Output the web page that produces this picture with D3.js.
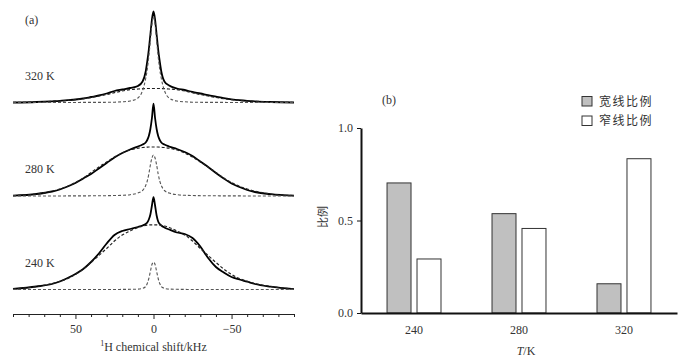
<!DOCTYPE html>
<html>
<head>
<meta charset="utf-8">
<script src="https://cdn.jsdelivr.net/npm/d3@7"></script>
<style>
  body { margin: 0; background: #fff; }
  svg { display: block; }
  text { font-family: "Liberation Serif", "DejaVu Serif", serif; fill: #333; }
  .cjk { font-family: "Noto Sans CJK SC", sans-serif; }
</style>
</head>
<body>
<script>
// ---------- data: (a) 1H NMR spectra ----------
const shiftKHz = [90, 75, 65, 60, 55, 50, 45, 40, 35, 30, 25, 20, 15, 10, 7, 5, 4, 3, 2, 1,
  0, -1, -2, -3, -4, -5, -7, -10, -15, -20, -25, -30, -35, -40, -45, -50, -55, -60, -65, -75, -90];

const spectrumLabels = ["320 K", "280 K", "240 K"];

// intensities (a.u.), one value per shiftKHz entry
const solid320 = [0, 0.5, 1.2, 1.6, 2.3, 3, 4, 5.5, 7, 9, 11.5, 13, 14.5, 16.5, 21, 31, 41, 53, 68, 83,
  91, 83, 68, 53, 41, 31, 21, 17, 14, 12.5, 10.5, 9, 7.3, 5.8, 4.3, 3.2, 2.3, 1.6, 1.1, 0.5, 0];
const broad320 = [0, 0.5, 1.2, 1.5, 2.1, 2.8, 3.8, 5, 6.5, 8, 9.8, 11.5, 12.8, 13.5, 13.8, 13.9, 14, 14, 14, 14,
  14, 14, 14, 14, 14, 13.9, 13.8, 13.5, 12.8, 11.5, 9.8, 8, 6.5, 5, 3.8, 2.8, 2.1, 1.5, 1.2, 0.5, 0];
const narrow320 = [0, 0, 0, 0, 0, 0, 0.1, 0.1, 0.1, 0.2, 0.3, 0.7, 1.5, 4.5, 12, 24, 33, 46, 62, 78,
  86, 78, 62, 46, 33, 24, 12, 4.5, 1.5, 0.7, 0.3, 0.2, 0.1, 0.1, 0.1, 0, 0, 0, 0, 0, 0];

const solid280 = [0.3, 2, 4.5, 6.5, 9.5, 13, 17.5, 22, 27.5, 33, 38.5, 43, 46.5, 49.5, 51.5, 53.5, 56, 60, 67, 78,
  92.4, 78, 67, 60, 56, 53.5, 51.5, 49.5, 47, 44, 40, 34.5, 29, 23, 17.5, 12.5, 9, 6, 4, 1.8, 0.3];
const broad280 = [0.4, 2, 4.8, 7, 9.8, 13.5, 18, 23.5, 29, 34, 39, 43, 46, 47.8, 48.5, 48.8, 48.9, 49, 49, 49,
  49, 49, 49, 49, 48.9, 48.8, 48.5, 47.8, 46, 43, 39, 34, 29, 23.5, 18, 13.5, 9.8, 7, 4.8, 2, 0.4];
const narrow280 = [0, 0, 0, 0, 0.1, 0.1, 0.1, 0.2, 0.2, 0.3, 0.5, 0.7, 1.3, 3, 5.5, 10.5, 15, 22, 31, 38,
  41, 38, 31, 22, 15, 10.5, 5.5, 3, 1.3, 0.7, 0.5, 0.3, 0.2, 0.2, 0.1, 0.1, 0.1, 0, 0, 0, 0];

const solid240 = [0.5, 3, 5.5, 8, 11.5, 15.5, 20.5, 27.5, 36, 46, 54.5, 58.5, 60.5, 62.5, 64, 65.5, 67, 70, 75, 84,
  92.3, 84, 74, 68, 65.5, 64, 62, 60, 57, 55.5, 51.5, 43, 31.5, 22.5, 17, 12.5, 10, 7.8, 5.5, 2.8, 0.3];
const broad240 = [0.5, 3, 6, 8.2, 11, 15, 20.5, 27, 34, 41, 48.5, 54.5, 58.5, 62, 63.5, 64.2, 64.4, 64.5, 64.6, 64.7,
  64.7, 64.7, 64.6, 64.5, 64.4, 64.2, 63.5, 62, 58.5, 54.5, 48.5, 41, 34, 27, 20.5, 15, 11, 8.2, 6, 3, 0.5];
const narrow240 = [0, 0, 0, 0, 0, 0, 0, 0, 0, 0, 0, 0.1, 0.2, 0.4, 1.2, 3, 6, 11, 18, 25,
  27.3, 25, 18, 11, 6, 3, 1.2, 0.4, 0.2, 0.1, 0, 0, 0, 0, 0, 0, 0, 0, 0, 0, 0];

// ---------- data: (b) line fractions ----------
const temperatures = ["240", "280", "320"];
const seriesKeys = ["broad", "narrow"];
const seriesNames = ["宽线比例", "窄线比例"];
const broadFraction = [0.703, 0.537, 0.158];
const narrowFraction = [0.292, 0.457, 0.834];
const yTicksB = [0, 0.5, 1.0];

// ---------- svg ----------
const width = 691, height = 361;
const svg = d3.select("body").append("svg")
  .attr("width", width)
  .attr("height", height);

// ===== panel (a) =====
const x = d3.scaleLinear().domain([90, -90]).range([13, 294]);
const yI = d3.scaleLinear().domain([0, 100]).range([0, -100]);
const rowY = d3.scalePoint().domain(spectrumLabels).range([102.5, 289.5]);

const line = d3.line()
  .x((d, i) => x(shiftKHz[i]))
  .y(d => yI(d))
  .curve(d3.curveMonotoneX);

const spectra = [
  { label: "320 K", solid: solid320, broad: broad320, narrow: narrow320 },
  { label: "280 K", solid: solid280, broad: broad280, narrow: narrow280 },
  { label: "240 K", solid: solid240, broad: broad240, narrow: narrow240 }
];

const rows = svg.selectAll(".spec")
  .data(spectra)
  .join("g")
  .attr("class", "spec")
  .attr("transform", d => `translate(0,${rowY(d.label)})`);

rows.append("path")
  .attr("d", d => line(d.solid))
  .attr("fill", "none")
  .attr("stroke", "#000")
  .attr("stroke-width", 1.8);

rows.append("path")
  .attr("d", d => line(d.broad))
  .attr("fill", "none")
  .attr("stroke", "#222")
  .attr("stroke-width", 1.2)
  .attr("stroke-dasharray", "3,2");

rows.append("path")
  .attr("d", d => line(d.narrow))
  .attr("fill", "none")
  .attr("stroke", "#555")
  .attr("stroke-width", 1.1)
  .attr("stroke-dasharray", "3,2");

rows.append("text")
  .attr("x", 25)
  .attr("y", -23)
  .attr("font-size", 12)
  .text(d => d.label);

svg.append("text")
  .attr("x", 25)
  .attr("y", 24)
  .attr("font-size", 12)
  .text("(a)");

const axisA = svg.append("g")
  .attr("transform", "translate(0,314)")
  .call(d3.axisBottom(x)
    .tickValues(d3.range(-90, 91, 10))
    .tickSizeInner(3)
    .tickSizeOuter(0)
    .tickFormat(d => (d % 50 === 0 ? d3.format("")(d) : "")));

axisA.select(".domain").attr("stroke", "#222").attr("stroke-width", 1.2);
axisA.selectAll(".tick line")
  .attr("stroke", "#222")
  .attr("y2", d => (d % 50 === 0 ? 5 : 3));
axisA.selectAll(".tick text")
  .attr("y", 10)
  .attr("font-size", 12)
  .attr("fill", "#333");

const titleA = svg.append("text")
  .attr("x", 153.5)
  .attr("y", 351)
  .attr("text-anchor", "middle")
  .attr("font-size", 12);
titleA.append("tspan").attr("font-size", 8).attr("dy", -5).text("1");
titleA.append("tspan").attr("dy", 5).text("H chemical shift/kHz");

// ===== panel (b) =====
const xG = d3.scaleBand().domain(temperatures).range([361, 677])
  .paddingInner(0.486).paddingOuter(0.248);
const xS = d3.scaleBand().domain(seriesKeys).range([0, xG.bandwidth()]).paddingInner(0.2);
const yB = d3.scaleLinear().domain([0, 1]).range([313, 128]);
const fillB = d3.scaleOrdinal().domain(seriesKeys).range(["#c0c0c0", "#ffffff"]);

const barData = temperatures.flatMap((t, i) => [
  { t, key: "broad", v: broadFraction[i] },
  { t, key: "narrow", v: narrowFraction[i] }
]);

svg.append("g").selectAll("rect")
  .data(barData)
  .join("rect")
  .attr("x", d => xG(d.t) + xS(d.key))
  .attr("y", d => yB(d.v))
  .attr("width", xS.bandwidth())
  .attr("height", d => yB(0) - yB(d.v))
  .attr("fill", d => fillB(d.key))
  .attr("stroke", "#333")
  .attr("stroke-width", 1);

const axisY = svg.append("g")
  .attr("transform", "translate(361,0)")
  .call(d3.axisLeft(yB).tickValues(yTicksB).tickFormat(d3.format(".1f"))
    .tickSizeInner(4).tickSizeOuter(0).tickPadding(4));
axisY.select(".domain").attr("stroke", "#111").attr("stroke-width", 2);
axisY.selectAll(".tick line").attr("stroke", "#111");
axisY.selectAll(".tick text")
  .attr("font-size", 12)
  .attr("fill", "#333");

const axisX = svg.append("g")
  .attr("transform", "translate(0,313)")
  .call(d3.axisBottom(xG).tickSize(0).tickSizeOuter(0).tickPadding(12));
axisX.select(".domain").attr("stroke", "#111").attr("stroke-width", 2);
axisX.selectAll(".tick text")
  .attr("font-size", 12)
  .attr("fill", "#333");

const titleX = svg.append("text")
  .attr("x", 526)
  .attr("y", 355)
  .attr("text-anchor", "middle")
  .attr("font-size", 12);
titleX.append("tspan").attr("font-style", "italic").text("T");
titleX.append("tspan").text("/K");

svg.append("text")
  .attr("class", "cjk")
  .attr("transform", "translate(327,217) rotate(-90)")
  .attr("text-anchor", "middle")
  .attr("font-size", 11)
  .text("比例");

svg.append("text")
  .attr("x", 382)
  .attr("y", 104)
  .attr("font-size", 12)
  .text("(b)");

const legend = svg.append("g").selectAll("g")
  .data(seriesKeys)
  .join("g")
  .attr("transform", (d, i) => `translate(582,${96.5 + i * 19.5})`);

legend.append("rect")
  .attr("width", 10)
  .attr("height", 9.5)
  .attr("fill", d => fillB(d))
  .attr("stroke", "#333");

legend.append("text")
  .attr("class", "cjk")
  .attr("x", 17)
  .attr("y", 9)
  .attr("font-size", 12)
  .attr("letter-spacing", 1.5)
  .text((d, i) => seriesNames[i]);
</script>
</body>
</html>
